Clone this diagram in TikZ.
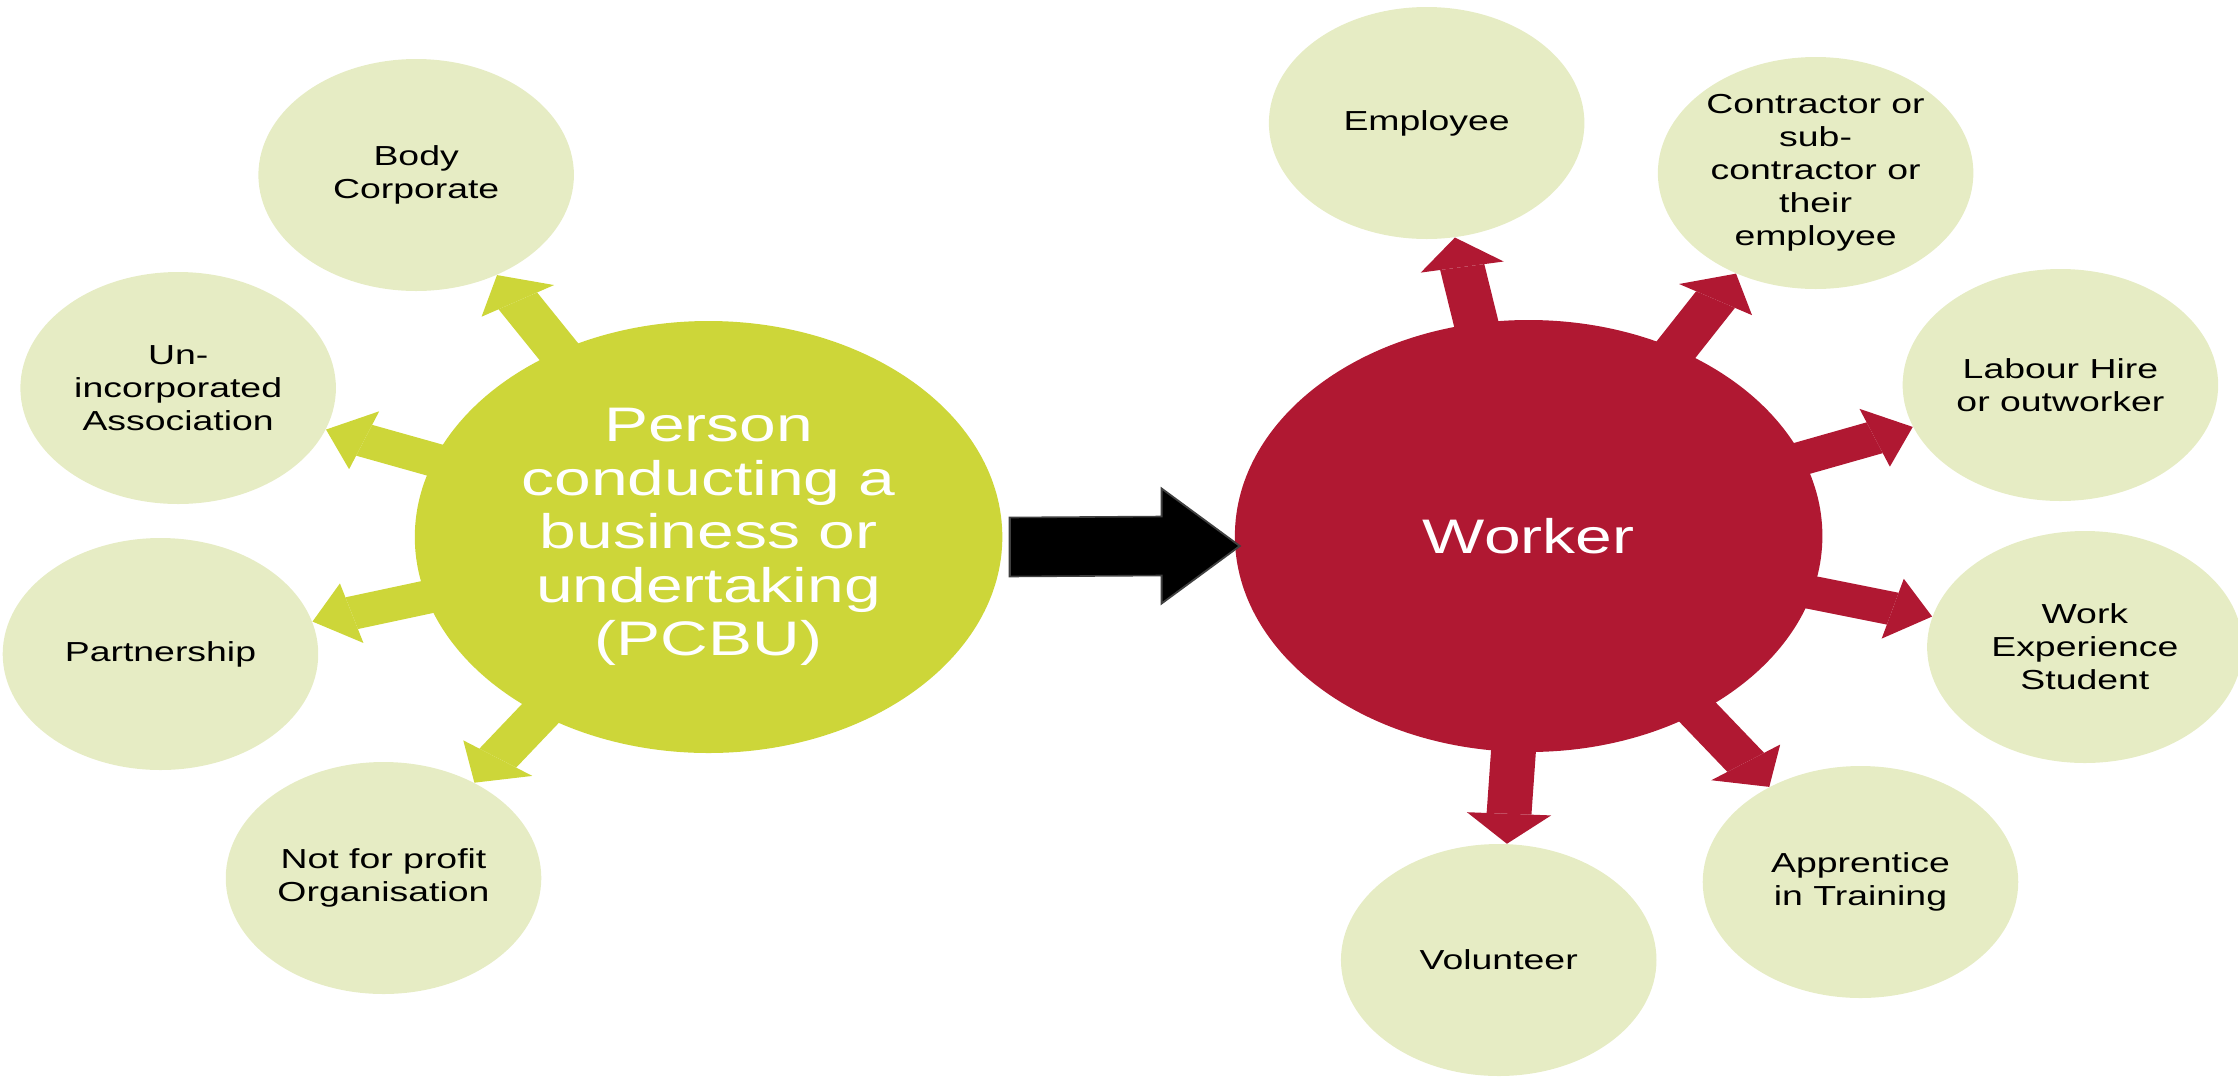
\documentclass[tikz,border=0pt]{standalone}
\usepackage{fontspec}
\setmainfont{Liberation Sans}
\usetikzlibrary{arrows.meta,calc}

\definecolor{pcbugreen}{RGB}{205,214,57}
\definecolor{palegreen}{RGB}{230,236,196}
\definecolor{workerred}{RGB}{176,24,50}

\tikzset{
  hub/.style={circle, minimum size=216pt, inner sep=0pt, align=center, text=white,
    font=\fontsize{24.25}{26.75}\selectfont},
  leaf/.style={circle, fill=palegreen, minimum size=116pt, inner sep=0pt, align=center,
    text=black, font=\fontsize{13.75}{16.5}\selectfont},
  spoke/.style={line width=16.5pt, shorten <=-6pt,
    -{Triangle[length=15pt,width=31pt,line width=0pt]}},
}

\begin{document}
\begin{tikzpicture}[x=0.5pt,y=0.5pt,yscale=-1,xscale=1]
    \useasboundingbox (0,0) rectangle (2238,1077);
    \begin{scope}[transform canvas={xscale=1.36}]
        \node[hub, fill=pcbugreen] (pcbu) at (521,537) {Person\\conducting a\\business or\\undertaking\\(PCBU)};
        \node[hub, fill=workerred] (worker) at (1124,536) {Worker};

        \node[leaf] (body) at (306,175) {Body\\Corporate};
        \node[leaf] (assoc) at (131,388) {Un-\\incorporated\\Association};
        \node[leaf] (partner) at (118,654) {Partnership};
        \node[leaf] (nonprofit) at (282,878) {Not for profit\\Organisation};

        \node[leaf] (employee) at (1049,123) {Employee};
        \node[leaf] (contractor) at (1335,173) {Contractor or\\sub-\\contractor or\\their\\employee};
        \node[leaf] (labourhire) at (1515,385) {Labour Hire\\or outworker};
        \node[leaf] (workexp) at (1533,647) {Work\\Experience\\Student};
        \node[leaf] (apprentice) at (1368,882) {Apprentice\\in Training};
        \node[leaf] (volunteer) at (1102,960) {Volunteer};

        \draw[spoke, draw=pcbugreen] (pcbu) -- (body);
        \draw[spoke, draw=pcbugreen] (pcbu) -- (assoc);
        \draw[spoke, draw=pcbugreen] (pcbu) -- (partner);
        \draw[spoke, draw=pcbugreen] (pcbu) -- (nonprofit);

        \draw[spoke, draw=workerred] (worker) -- (employee);
        \draw[spoke, draw=workerred] (worker) -- (contractor);
        \draw[spoke, draw=workerred] (worker) -- (labourhire);
        \draw[spoke, draw=workerred] (worker) -- (workexp);
        \draw[spoke, draw=workerred] (worker) -- (apprentice);
        \draw[spoke, draw=workerred] (worker) -- (volunteer);

        % block arrow between the two hubs
        \coordinate (tail) at ($(pcbu.east)+(5,10)$);
        \coordinate (tip) at ($(worker.west)+(4,10)$);
        \draw[fill=black, draw=black!75, line width=0.8pt]
            ($(tail)+(0,-29.5)$) -- ($(tip)+(-57.5,-29.5)$) -- ($(tip)+(-57.5,-57.5)$) -- (tip)
            -- ($(tip)+(-57.5,57.5)$) -- ($(tip)+(-57.5,29.5)$) -- ($(tail)+(0,29.5)$) -- cycle;
    \end{scope}
\end{tikzpicture}
\end{document}
